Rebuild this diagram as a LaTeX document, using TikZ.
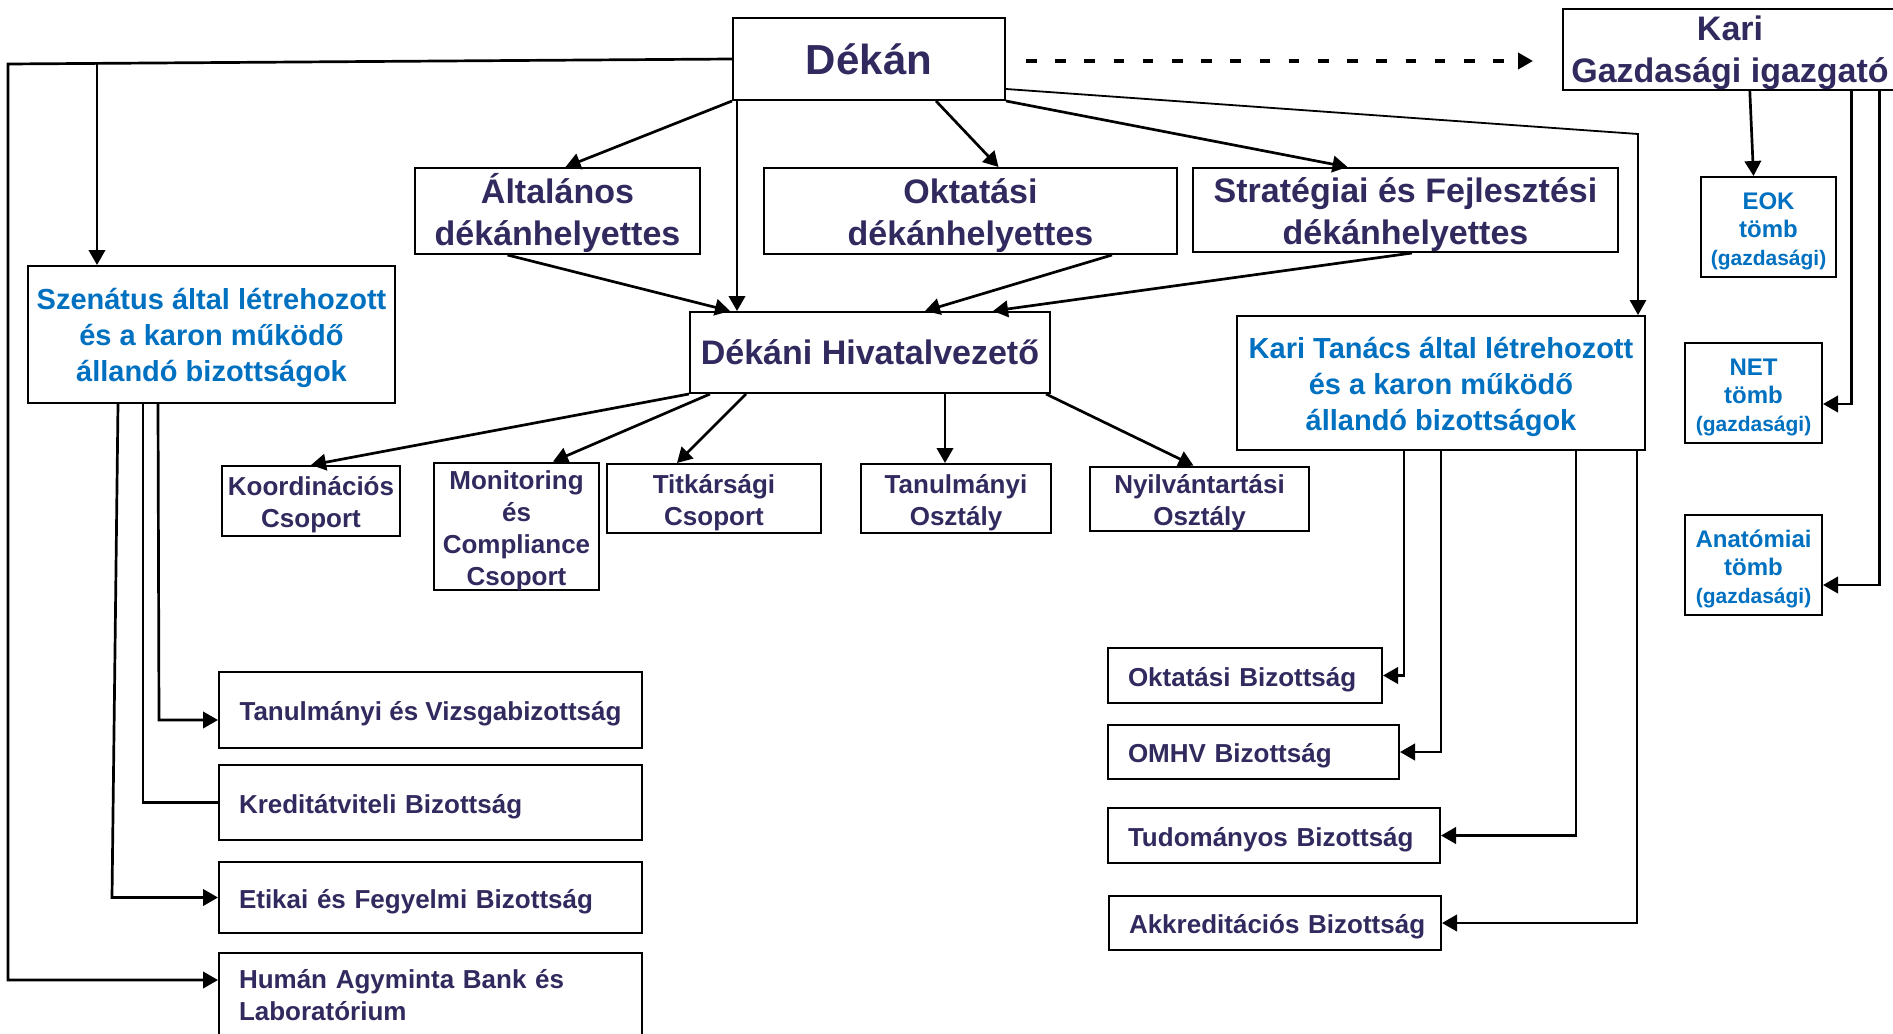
\documentclass[tikz,border=0pt]{standalone}
\usepackage{fontspec}
\setmainfont{Liberation Sans}
\usetikzlibrary{arrows.meta,calc}
\definecolor{navy}{RGB}{48,42,94}
\definecolor{kblue}{RGB}{0,112,192}
\newcommand\myfs[2]{\fontsize{#1}{#2}\selectfont}
\newcommand\up[1]{\rule{0pt}{#1}}
\begin{document}
\begin{tikzpicture}[x=0.5pt,y=-0.5pt,
  rect/.style args={#1/#2/#3/#4}{minimum width={(#3-#1)*0.5pt}, minimum height={(#4-#2)*0.5pt}, at={({(#1+#3)/2},{(#2+#4)/2})}},
  box/.style={draw=black, line width=1pt, inner sep=0pt, align=center, text=navy},
  bbox/.style={box, text=kblue},
  lbox/.style={box, align=left, text width=#1},
  strut/.style={execute at begin node={\rule{0pt}{#1}}},
  conn/.style={line width=1.35pt, draw=black},
  thinconn/.style={line width=0.9pt, draw=black, -{Triangle[length=7.5pt,width=8.2pt]}},
  arr/.style={conn, -{Triangle[length=7.5pt,width=8.2pt]}},
  dline/.style={line width=2.2pt, dash pattern=on 5.3pt off 9.3pt, -{Triangle[length=7.5pt,width=8pt]}},
  big/.style={font=\bfseries\myfs{17}{21}},
  mid/.style={font=\bfseries\myfs{14.5}{18}},
  small/.style={font=\bfseries\myfs{13}{16}},
  single/.style={small, strut=13.4pt},
  tiny/.style={font=\bfseries\myfs{12}{14}},
]
\useasboundingbox[fill=white] (0,0) rectangle (1893,1033);

% top level
\node[box, rect=733/18/1005/100, font=\bfseries\myfs{21}{25}] (dekan) {Dékán};
\node[box, line width=1.2pt, rect=1563/11/1897/88, big] (kgi) {\up{15.7pt}Kari\\Gazdasági igazgató};

% deputies
\node[box, rect=415/168/700/254, big] (alt) {\up{17.4pt}Általános\\dékánhelyettes};
\node[box, rect=764/168/1177/254, big] (okt) {\up{17.4pt}Oktatási\\dékánhelyettes};
\node[box, rect=1193/168/1618/252, big] (str) {\up{17.4pt}Stratégiai és Fejlesztési\\dékánhelyettes};

\node[bbox, rect=28/266/395/403, mid] (szen) {\up{14.5pt}Szenátus által létrehozott\\és a karon működő\\állandó bizottságok};
\node[box, rect=690/312/1050/393, big] (dh) {Dékáni Hivatalvezető};
\node[bbox, rect=1237/316/1645/450, mid] (kt) {\up{14.5pt}Kari Tanács által létrehozott\\és a karon működő\\állandó bizottságok};

% economic blocks
\node[bbox, rect=1701/177/1836/277, tiny] (eok) {\up{12.3pt}EOK\\tömb\\\myfs{10.5}{14}(gazdasági)};
\node[bbox, rect=1685/343/1822/443, tiny] (net) {\up{12.3pt}NET\\tömb\\\myfs{10.5}{14}(gazdasági)};
\node[bbox, rect=1685/515/1822/615, tiny] (anat) {\up{12.5pt}Anatómiai\\tömb\\\myfs{10.5}{14}(gazdasági)};

% office units
\node[box, rect=222/466/400/536, small] (koord) {\up{13.4pt}Koordinációs\\Csoport};
\node[box, rect=434/463/599/590, small] (monit) {\up{13.2pt}Monitoring\\és\\Compliance\\Csoport};
\node[box, rect=607/464/821/533, small] (titk) {\up{13.2pt}Titkársági\\Csoport};
\node[box, rect=861/464/1051/533, small] (tano) {\up{13.2pt}Tanulmányi\\Osztály};
\node[box, line width=1.4pt, rect=1090/467/1309/531, small] (nyilv) {\up{13.2pt}Nyilvántartási\\Osztály};

% senate committees
\node[box, rect=219/672/642/748, single] (tvb) {Tanulmányi és Vizsgabizottság};
\node[lbox=191.5pt, rect=219/765/642/840, single] (kred) {\mbox{Kreditátviteli Bizottság}};
\node[lbox=191.5pt, rect=219/862/642/933, single] (etik) {\mbox{Etikai és Fegyelmi Bizottság}};
\node[lbox=191.5pt, rect=219/953/642/1037, small] (human) {\mbox{Humán Agyminta Bank és}\\\mbox{Laboratórium}};

% faculty council committees
\node[lbox=117pt, rect=1108/648/1382/703, single] (oktb) {\mbox{Oktatási Bizottság}};
\node[lbox=125.5pt, rect=1108/725/1399/779, single] (omhv) {\mbox{OMHV Bizottság}};
\node[lbox=146pt, rect=1108/808/1440/863, single] (tud) {\mbox{Tudományos Bizottság}};
\node[lbox=146pt, rect=1109/896/1441/950, single] (akk) {\mbox{Akkreditációs Bizottság}};

% ---- connectors ----
\coordinate (ltop) at (8,64);
\coordinate (lbot) at (8,980);
\draw[arr] (dekan.west) -- (ltop) -- (lbot) -- (lbot -| human.west);
\coordinate (sbr) at (97,63);
\draw[arr] (sbr) -- (sbr |- szen.north);

\draw[arr] (dekan.south west) -- ($(alt.north)+(8,0)$);
\coordinate (d4) at ($(dekan.south west)+(5,0)$);
\draw[arr] (d4) -- (d4 |- dh.north);
\draw[arr] ($(dekan.south)+(67,0)$) -- ($(okt.north)+(28,0)$);
\draw[arr] (dekan.south east) -- ($(str.north)+(-58,0)$);
\coordinate (kbend) at (1638,134);
\draw[thinconn] ($(dekan.south east)+(0,-12)$) -- (kbend) -- (kbend |- kt.north);
\coordinate (dashend) at (1533,61);
\draw[dline] ($(dekan.east)+(20,2)$) -- (dashend);

\draw[arr] ($(alt.south)+(-50,0)$) -- ($(dh.north)+(-140,0)$);
\draw[arr] ($(okt.south)+(141.5,0)$) -- ($(dh.north)+(55,0)$);
\draw[arr] ($(str.south)+(6.5,0)$) -- ($(dh.north)+(123,0)$);

\draw[arr] (dh.south west) -- (koord.north);
\draw[arr] ($(dh.south)+(-160,0)$) -- ($(monit.north)+(36.5,0)$);
\draw[arr] ($(dh.south)+(-124,0)$) -- ($(titk.north)+(-37,0)$);
\coordinate (d15) at ($(dh.south)+(75,0)$);
\draw[arr] (d15) -- (d15 |- tano.north);
\draw[arr] ($(dh.south east)+(-5,0)$) -- ($(nyilv.north)+(-6,0)$);

\coordinate (s17) at ($(szen.south west)+(131,0)$);
\coordinate (t17) at (159,720);
\draw[arr] (s17) -- (t17) -- (t17 -| tvb.west);
\coordinate (s18) at ($(szen.south west)+(116,0)$);
\draw[conn] (s18) -- (s18 |- kred.west) -- (kred.west);
\coordinate (s19) at ($(szen.south west)+(91,0)$);
\coordinate (t19) at (112,897.5);
\draw[arr] (s19) -- (t19) -- (t19 -| etik.west);

\coordinate (k20) at ($(kt.south west)+(168,0)$);
\draw[arr] (k20) -- (k20 |- oktb.east) -- (oktb.east);
\draw[arr] (kt.south) -- (kt.south |- omhv.east) -- (omhv.east);
\coordinate (k22) at ($(kt.south east)+(-70,0)$);
\draw[arr] (k22) -- (k22 |- tud.east) -- (tud.east);
\coordinate (k23) at ($(kt.south east)+(-9,0)$);
\draw[arr] (k23) -- (k23 |- akk.east) -- (akk.east);

\draw[arr] ($(kgi.south west)+(188,0)$) -- ($(eok.north)+(-15,0)$);
\coordinate (g2) at ($(kgi.south west)+(290,0)$);
\coordinate (n2) at ($(net.east)+(0,11)$);
\draw[arr] (g2) -- (g2 |- n2) -- (n2);
\coordinate (g3) at ($(kgi.south west)+(318,0)$);
\coordinate (n3) at ($(anat.east)+(0,20)$);
\draw[arr] (g3) -- (g3 |- n3) -- (n3);
\end{tikzpicture}
\end{document}
